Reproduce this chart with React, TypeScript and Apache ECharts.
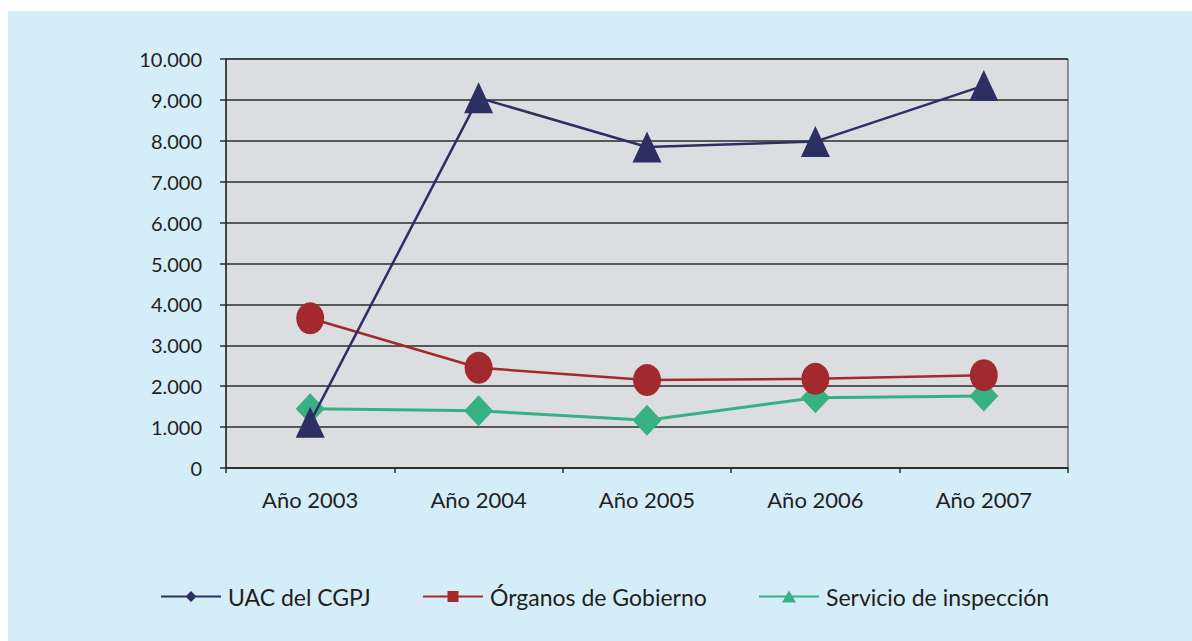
import React, { useEffect, useRef } from "react";
import * as echarts from "echarts";

const categories = ["Año 2003", "Año 2004", "Año 2005", "Año 2006", "Año 2007"];
const uacValues = [1120, 9050, 7850, 7980, 9350];
const organosValues = [3660, 2450, 2150, 2180, 2270];
const servicioValues = [1450, 1400, 1170, 1720, 1760];
const seriesNames = ["UAC del CGPJ", "Órganos de Gobierno", "Servicio de inspección"];

const NAVY = "#2d2f62";
const RED = "#a2292e";
const GREEN = "#37b084";
const TEXT = "#231f20";
const FONT = "Lato";

const LINE = "M0 5L60 5L60 7L0 7Z ";
const iconDiamond = "path://" + LINE + "M30 0.5L35.5 6L30 11.5L24.5 6Z M0 0L0.01 0L0.01 0.01Z M0 12L0.01 12L0.01 11.99Z";
const iconSquare = "path://" + LINE + "M24.5 0.5L35.5 0.5L35.5 11.5L24.5 11.5Z M0 0L0.01 0L0.01 0.01Z M0 12L0.01 12L0.01 11.99Z";
const iconTriangle = "path://" + LINE + "M30 0L37 12L23 12Z";

export default function App() {
  const ref = useRef<HTMLDivElement>(null);
  useEffect(() => {
    if (!ref.current) return;
    const chart = echarts.init(ref.current, undefined, { renderer: "svg" });
    const legendBase = {
      top: 585,
      orient: "horizontal",
      padding: 0,
      itemWidth: 60,
      itemHeight: 12,
      itemGap: 0,
      selectedMode: false,
      textStyle: { fontFamily: FONT, fontSize: 23, color: TEXT, padding: [0, 0, 0, 2] },
    };
    chart.setOption({
      animation: false,
      backgroundColor: "#ffffff",
      graphic: [
        {
          type: "rect",
          z: -10,
          shape: { x: 8, y: 11, width: 1184, height: 630 },
          style: { fill: "#d5ecf9" },
          silent: true,
        },
      ],
      grid: {
        left: 226,
        top: 59,
        right: 124,
        bottom: 173,
        show: true,
        backgroundColor: "#dcdde0",
        borderColor: "#3a3a3a",
        borderWidth: 1,
      },
      legend: [
        { ...legendBase, left: 161, data: [{ name: seriesNames[0], icon: iconDiamond, itemStyle: { color: NAVY } }] },
        { ...legendBase, left: 423, data: [{ name: seriesNames[1], icon: iconSquare, itemStyle: { color: RED } }] },
        { ...legendBase, left: 759, data: [{ name: seriesNames[2], icon: iconTriangle, itemStyle: { color: GREEN } }] },
      ],
      xAxis: {
        type: "category",
        data: categories,
        boundaryGap: true,
        axisLine: { show: true, lineStyle: { color: "#2b2b2b", width: 1.5 } },
        axisTick: { show: true, length: 5, lineStyle: { color: "#2b2b2b", width: 1.5 } },
        axisLabel: { margin: 20, fontFamily: FONT, fontSize: 22, color: TEXT },
        splitLine: { show: false },
      },
      yAxis: {
        type: "value",
        min: 0,
        max: 10000,
        interval: 1000,
        axisLine: { show: true, lineStyle: { color: "#2b2b2b", width: 1.5 } },
        axisTick: { show: true, length: 6, lineStyle: { color: "#2b2b2b", width: 1.5 } },
        axisLabel: {
          margin: 24,
          fontFamily: FONT,
          fontSize: 20,
          color: TEXT,
          formatter: (v: number) => (v >= 1000 ? Math.floor(v / 1000) + "." + String(v % 1000).padStart(3, "0") : String(v)),
        },
        splitLine: { show: true, lineStyle: { color: "#2b2b2b", width: 1.5 } },
      },
      series: [
        {
          name: seriesNames[0],
          type: "line",
          data: uacValues,
          z: 5,
          symbol: "triangle",
          symbolSize: [29, 31],
          lineStyle: { color: NAVY, width: 2.5 },
          itemStyle: { color: NAVY },
        },
        {
          name: seriesNames[1],
          type: "line",
          data: organosValues,
          z: 4,
          symbol: "circle",
          symbolSize: [28, 32],
          lineStyle: { color: RED, width: 2.5 },
          itemStyle: { color: RED },
        },
        {
          name: seriesNames[2],
          type: "line",
          data: servicioValues,
          z: 3,
          symbol: "diamond",
          symbolSize: [29, 31],
          lineStyle: { color: GREEN, width: 3 },
          itemStyle: { color: GREEN },
        },
      ],
    });
    return () => chart.dispose();
  }, []);
  return (
    <div
      ref={ref}
      style={{ position: "absolute", left: 0, top: 0, width: 1192, height: 641 }}
    />
  );
}
